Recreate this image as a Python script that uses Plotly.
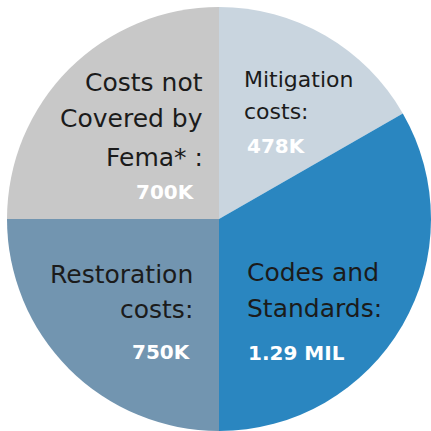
import plotly.graph_objects as go

# ---- data ----
categories = ["Mitigation costs", "Codes and Standards", "Restoration costs", "Costs not Covered by Fema*"]
label_lines = [
    ["Mitigation", "costs:"],
    ["Codes and", "Standards:"],
    ["Restoration", "costs:"],
    ["Costs not", "Covered by", "Fema* :"],
]
amounts = ["478K", "1.29 MIL", "750K", "700K"]
# slice shares as drawn in the picture (percent of circle)
shares = [16.7, 33.3, 25.0, 25.0]
colors = ["#c9d5df", "#2a86c0", "#7295b0", "#c8c8c8"]

# ---- layout of text blocks (pixel positions in a 431x431 canvas) ----
W = H = 431
blocks = [
    dict(x=242, vx=245, align="left", ys=[79, 111], vy=146, size=22),
    dict(x=245, vx=246, align="left", ys=[272, 308], vy=353, size=25),
    dict(x=195, vx=193, align="right", ys=[274, 309], vy=352, size=25),
    dict(x=205, vx=197, align="right", ys=[82, 119, 157], vy=192, size=25),
]

fig = go.Figure(go.Pie(
    labels=categories,
    values=shares,
    sort=False,
    direction="clockwise",
    rotation=0,
    marker=dict(colors=colors, line=dict(width=0)),
    textinfo="none",
    hoverinfo="label",
    showlegend=False,
    domain=dict(x=[7 / W, 1.0], y=[0.0, 424 / H]),
))

annotations = []
for lines, amt, b in zip(label_lines, amounts, blocks):
    for line, y in zip(lines, b["ys"]):
        annotations.append(dict(
            text=line, x=b["x"] / W, y=1 - y / H, xref="paper", yref="paper",
            xanchor=b["align"], yanchor="middle", showarrow=False,
            font=dict(family="DejaVu Sans", size=b["size"], color="#1b1b1b"),
        ))
    annotations.append(dict(
        text="<b>" + amt + "</b>", x=b["vx"] / W, y=1 - b["vy"] / H, xref="paper", yref="paper",
        xanchor=b["align"], yanchor="middle", showarrow=False,
        font=dict(family="DejaVu Sans", size=20, color="#ffffff"),
    ))

fig.update_layout(
    width=W, height=H,
    margin=dict(l=0, r=0, t=0, b=0),
    paper_bgcolor="#ffffff",
    plot_bgcolor="#ffffff",
    annotations=annotations,
)

fig.write_html(
    "out.html",
    config={"displayModeBar": False},
    post_script="document.body.style.margin='0';document.body.style.overflow='hidden';",
)
